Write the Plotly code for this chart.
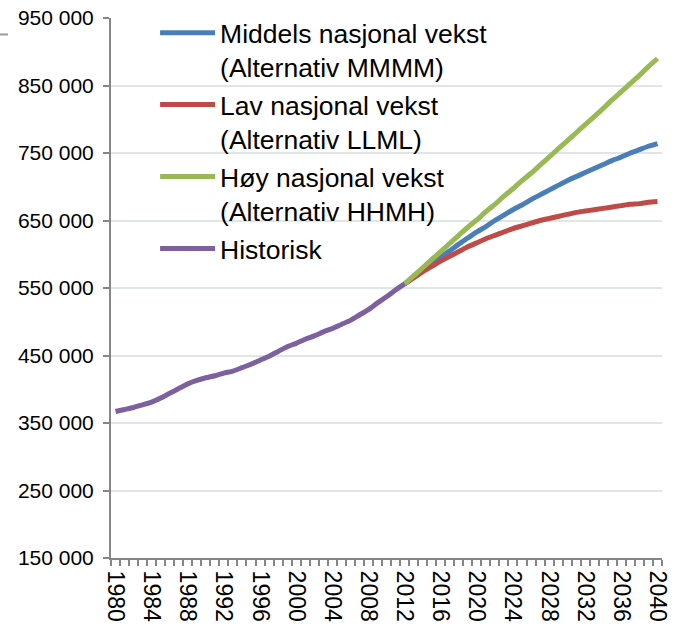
import plotly.graph_objects as go

# Befolkning, historisk og framskrevet
years_hist = list(range(1980, 2013))
historisk = [367000, 370000, 373000, 377000, 381000, 387000, 394000, 401000, 408000, 413000,
             417000, 420000, 424000, 427000, 432000, 437000, 443000, 449000, 456000, 463000,
             468000, 474000, 479000, 485000, 490000, 496000, 502000, 510000, 518000, 528000,
             537000, 547000, 556000]

years_proj = list(range(2012, 2041))
middels = [556000, 566000, 576000, 586000, 596000, 605000, 615000, 624000, 633000, 641000,
           650000, 658000, 666000, 673000, 681000, 688000, 695000, 702000, 709000, 715000,
           721000, 727000, 733000, 739000, 744000, 750000, 755000, 760000, 764000]
lav = [556000, 565000, 574000, 582000, 590000, 597000, 604000, 611000, 617000, 623000,
       628000, 633000, 638000, 642000, 646000, 650000, 653000, 656000, 659000, 662000,
       664000, 666000, 668000, 670000, 672000, 674000, 675000, 677000, 678000]
hoy = [556000, 568000, 580000, 592000, 604000, 616000, 628000, 640000, 651000, 663000,
       674000, 686000, 697000, 709000, 720000, 732000, 744000, 756000, 768000, 780000,
       792000, 804000, 816000, 829000, 841000, 853000, 865000, 878000, 890000]

x_ticks = list(range(1980, 2041, 4))
y_ticks = [150000, 250000, 350000, 450000, 550000, 650000, 750000, 850000, 950000]
y_labels = ["150 000", "250 000", "350 000", "450 000", "550 000",
            "650 000", "750 000", "850 000", "950 000"]

FONT = "Liberation Sans, Arial, sans-serif"
AXIS = "#868686"
GRID = "#e0e6e6"


def plot_population():
    fig = go.Figure()
    series = [
        ("Middels nasjonal vekst<br>(Alternativ MMMM)", years_proj, middels, "#4a7ebb"),
        ("Lav nasjonal vekst<br>(Alternativ LLML)", years_proj, lav, "#be4b48"),
        ("Høy nasjonal vekst<br>(Alternativ HHMH)", years_proj, hoy, "#98b954"),
        ("Historisk", years_hist, historisk, "#7d60a0"),
    ]
    for i, (name, x, y, color) in enumerate(series):
        fig.add_trace(go.Scatter(
            x=x, y=y, name=name, mode="lines", legendgroup=str(i),
            line=dict(color=color, width=5, shape="spline", smoothing=0.6),
        ))

    fig.update_layout(
        width=680, height=637,
        margin=dict(l=111, r=18, t=18, b=79, autoexpand=False),
        paper_bgcolor="white", plot_bgcolor="white",
        font=dict(family=FONT, color="black", size=21),
        showlegend=True,
        legend=dict(
            x=0.08, y=1.0167, xanchor="left", yanchor="top",
            bgcolor="rgba(0,0,0,0)", font=dict(size=26.5),
            itemwidth=55, tracegroupgap=0, valign="top",
        ),
        xaxis=dict(
            range=[1979.5, 2040.5], tickmode="array", tickvals=x_ticks,
            tickangle=90, tickfont=dict(size=23), automargin=False,
            ticks="outside", ticklen=6, tickcolor="rgba(0,0,0,0)",
            minor=dict(tick0=1979.5, dtick=1, ticks="outside", ticklen=6,
                       tickcolor=AXIS, tickwidth=1.5, showgrid=False),
            showline=True, linecolor=AXIS, linewidth=2,
            showgrid=False, zeroline=False,
        ),
        yaxis=dict(
            range=[150000, 950000], tickmode="array", tickvals=y_ticks, ticktext=y_labels,
            ticks="outside", ticklen=6, tickcolor=AXIS, tickwidth=1.5,
            ticklabelstandoff=5, automargin=False,
            showline=True, linecolor=AXIS, linewidth=2,
            showgrid=True, gridcolor=GRID, gridwidth=1.5, zeroline=False,
        ),
        # small grey stroke at the far top-left of the original picture
        shapes=[dict(type="line", xref="paper", yref="paper",
                     x0=-0.2015, x1=-0.187, y0=0.9695, y1=0.9695,
                     line=dict(color="#9a9a9a", width=2))],
    )
    return fig


fig = plot_population()
# drop the default 8px page margin so the figure sits at the window's corner
fig.write_html("out.html", config={"displayModeBar": False},
               post_script="document.body.style.margin = '0';")
